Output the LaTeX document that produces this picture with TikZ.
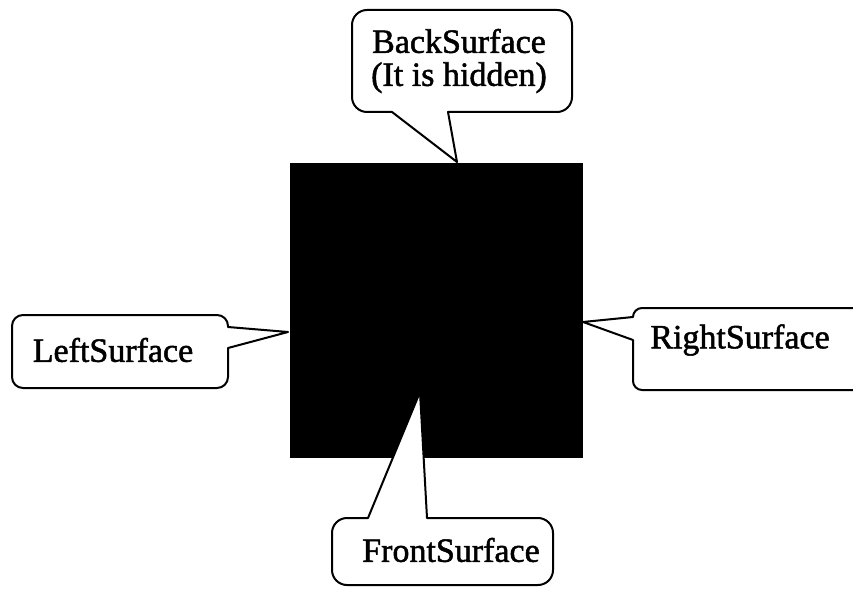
\documentclass[tikz,border=0pt]{standalone}
\usepackage{fontspec}
\setmainfont{Liberation Serif}[FakeBold=1.5]
\begin{document}
\begin{tikzpicture}[x=1pt,y=-1pt,
  callout/.style={draw=black,line width=2pt,fill=white,line join=round},
  lbl/.style={font=\fontsize{34}{34}\selectfont,inner sep=0pt,align=center}]
\useasboundingbox (0,0) rectangle (853,593);
\begin{scope}
\clip (0,0) rectangle (853,593);
% black square
\fill[black] (290,163) rectangle (583,458);
% back callout
\path[callout] (352,60) [rounded corners=15pt] -- (352,112)
  [sharp corners] -- (392,112) -- (457,162) -- (448,112)
  [rounded corners=15pt] -- (572,112) -- (572,10) -- (352,10) -- cycle;
% left callout
\path[callout] (120,388) [rounded corners=11pt] -- (228,388)
  [sharp corners] -- (228,348) -- (288,332) -- (228,327)
  [rounded corners=11pt] -- (228,315) -- (12,315) -- (12,388) -- cycle;
% right callout
\path[callout] (750,390) [rounded corners=9pt] -- (633,390)
  [sharp corners] -- (633,340) -- (583,322) -- (633,317)
  [rounded corners=9pt] -- (633,308) -- (870,308) -- (870,390) -- cycle;
% front callout
\path[callout] (332,550) [rounded corners=15pt] -- (332,518)
  [sharp corners] -- (368,518) -- (420,392) -- (427,518)
  [rounded corners=15pt] -- (553,518) -- (553,585) -- (332,585) -- cycle;
\end{scope}
\node[lbl] (back) at (459,61) {BackSurface\\[-1pt](It is hidden)};
\node[lbl] (left) at (113,350) {LeftSurface};
\node[lbl] (right) at (740,340) {RightSurface};
\node[lbl] (front) at (451,550) {FrontSurface};
\end{tikzpicture}
\end{document}
